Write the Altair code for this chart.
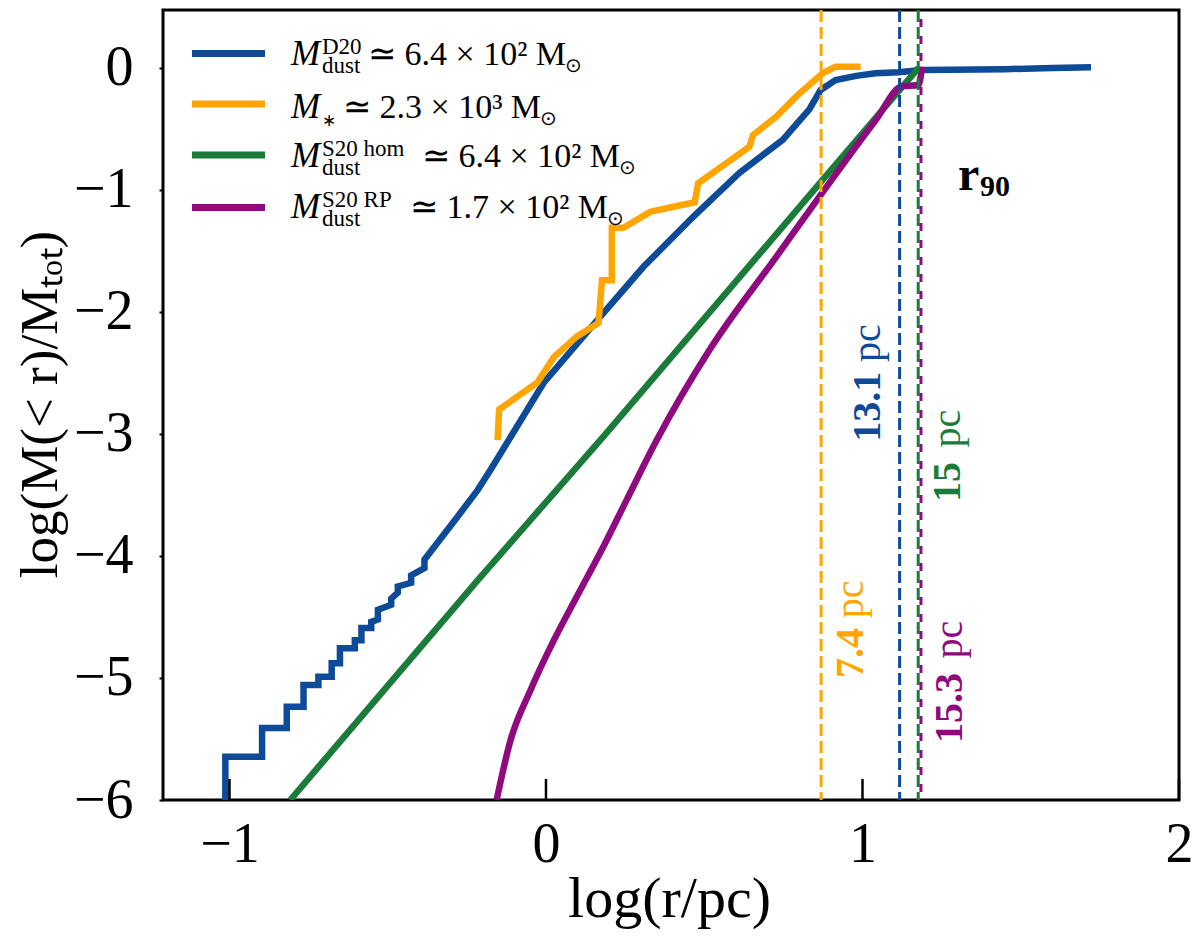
import numpy as np
import pandas as pd
import altair as alt

FONT = "Liberation Serif"

# cumulative mass profiles: log(M(<r)/Mtot) against log(r/pc)
d20_x = [-1.013, -1.013, -0.897, -0.897, -0.819, -0.819, -0.766, -0.766, -0.719, -0.719,
         -0.677, -0.677, -0.651, -0.651, -0.604, -0.604, -0.583, -0.583, -0.552, -0.552,
         -0.531, -0.531, -0.489, -0.489, -0.468, -0.468, -0.426, -0.426, -0.384, -0.384,
         -0.28, -0.216, -0.174, -0.007, 0.171, 0.308, 0.465, 0.611, 0.748, 0.832,
         0.868, 0.915, 0.98, 1.041, 1.114, 1.188, 1.45, 1.6, 1.722]
d20_y = [-6.0, -5.645, -5.645, -5.41, -5.41, -5.235, -5.235, -5.057, -5.057, -4.99,
         -4.99, -4.88, -4.88, -4.757, -4.757, -4.69, -4.69, -4.59, -4.59, -4.54,
         -4.52, -4.44, -4.40, -4.35, -4.30, -4.25, -4.22, -4.16, -4.10, -4.03,
         -3.68, -3.46, -3.29, -2.58, -2.04, -1.63, -1.22, -0.86, -0.59, -0.34,
         -0.18, -0.10, -0.065, -0.044, -0.035, -0.016, -0.01, 0.0, 0.005]

star_x = [-0.153, -0.148, -0.028, 0.025, 0.098, 0.166, 0.177, 0.208, 0.208, 0.245,
          0.329, 0.470, 0.481, 0.538, 0.643, 0.654, 0.727, 0.790, 0.874, 0.915, 0.994]
star_y = [-3.05, -2.80, -2.58, -2.37, -2.20, -2.09, -1.74, -1.74, -1.31, -1.31,
          -1.18, -1.10, -0.945, -0.84, -0.645, -0.55, -0.40, -0.235, -0.044, 0.01, 0.01]

hom_x = [-0.808, -0.216, 0.182, 0.87, 1.177]
hom_y = [-6.0, -4.20, -3.02, -0.93, 0.0]

rp_x = [-0.156, -0.112, -0.049, 0.025, 0.098, 0.182, 0.255, 0.350, 0.517, 0.727,
        0.868, 1.041, 1.125, 1.177, 1.188]
rp_y = [-6.0, -5.51, -5.10, -4.69, -4.33, -3.92, -3.54, -3.05, -2.31, -1.55,
        -1.04, -0.43, -0.15, -0.14, 0.01]

series = ["D20", "star", "hom", "RP"]
colors = ["#0d4a97", "#ffa500", "#1b7b3a", "#8e0a7e"]

# r90 radius of each profile (pc) and its label
r90_pc = [13.1, 7.4, 15.0, 15.3]
r90_txt = ["13.1", "7.4", "15", "15.3"]

# legend texts
leg_sup = ["D20", "", "S20 hom", "S20 RP"]
leg_sub = ["dust", "∗", "dust", "dust"]
leg_main = ["≃ 6.4 × 10² M", "≃ 2.3 × 10³ M", "≃ 6.4 × 10² M", "≃ 1.7 × 10² M"]

x_ticks = [-1, 0, 1, 2]
y_ticks = [-6, -5, -4, -3, -2, -1, 0]

frames = []
for name, xs_, ys_ in zip(series, [d20_x, star_x, hom_x, rp_x], [d20_y, star_y, hom_y, rp_y]):
    frames.append(pd.DataFrame({"x": xs_, "y": ys_, "s": name, "i": range(len(xs_))}))
lines = pd.concat(frames)

xs = alt.Scale(domain=[-1.21, 2.0], nice=False, zero=False)
ys = alt.Scale(domain=[-6.0, 0.475], nice=False, zero=False)
col = alt.Color("s:N", scale=alt.Scale(domain=series, range=colors), legend=None)

curves = alt.Chart(lines[lines.s != "RP"]).mark_line(strokeWidth=6.5, clip=True).encode(
    x=alt.X("x:Q", scale=xs, axis=alt.Axis(
        values=x_ticks, format="d", ticks=False, domain=False, grid=False, labelFlush=False,
        labelFont=FONT, labelFontSize=56, labelColor="black", labelPadding=17,
        title="log(r/pc)", titleFont=FONT, titleFontSize=58, titleFontWeight="normal",
        titleColor="black", titleX=506, titleY=116, titleBaseline="alphabetic",
        titleAlign="center")),
    y=alt.Y("y:Q", scale=ys, axis=alt.Axis(
        values=y_ticks, format="d", tickSize=4, tickWidth=2, tickColor="black", domain=False,
        grid=False, labelFlush=False, labelFont=FONT, labelFontSize=56, labelColor="black",
        labelPadding=26,
        title="log(M(< r)/Mₜₒₜ)", titleFont=FONT, titleFontSize=53, titleFontWeight="normal",
        titleColor="black", titleAngle=270, titleX=-107, titleY=394,
        titleBaseline="alphabetic", titleAlign="center")),
    color=col,
    order="i:Q",
)
# the RP profile is a smooth curve
curve_rp = alt.Chart(lines[lines.s == "RP"]).mark_line(
    strokeWidth=6.5, clip=True, interpolate="monotone").encode(
    x=alt.X("x:Q", scale=xs), y=alt.Y("y:Q", scale=ys), color=col, order="i:Q")

# inward ticks on the bottom axis
tick_df = pd.DataFrame({"t": x_ticks})
ticks = alt.Chart(tick_df).mark_rule(color="black", strokeWidth=2.5).encode(
    x=alt.X("t:Q", scale=xs), y=alt.value(790), y2=alt.value(769))

rdf = pd.DataFrame({"s": series, "lr": np.log10(r90_pc), "num": r90_txt,
                    "bx": [1.054, 1.003, 1.309, 1.315],
                    "ny": [-2.49, -4.59, -3.23, -4.96],
                    "py": [-2.41, -4.51, -3.11, -4.84]})

dashed = alt.Chart(rdf[rdf.s != "RP"]).mark_rule(strokeDash=[12, 5], strokeWidth=3).encode(
    x=alt.X("lr:Q", scale=xs), color=col)
dashed_rp = alt.Chart(rdf[rdf.s == "RP"]).mark_rule(
    strokeDash=[8, 9], strokeDashOffset=8, strokeWidth=3).encode(
    x=alt.X("lr:Q", scale=xs), color=col)

nums = alt.Chart(rdf).mark_text(angle=270, align="right", baseline="alphabetic",
                                font=FONT, fontSize=40, fontWeight="bold").encode(
    x=alt.X("bx:Q", scale=xs), y=alt.Y("ny:Q", scale=ys), text="num:N", color=col)
pcs = alt.Chart(rdf).mark_text(angle=270, align="left", baseline="alphabetic",
                               font=FONT, fontSize=40, text="pc").encode(
    x=alt.X("bx:Q", scale=xs), y=alt.Y("py:Q", scale=ys), color=col)

r90_df = pd.DataFrame({"t": ["r", "90"], "x": [1.302, 1.371], "y": [-1.0, -1.049],
                       "fs": [48, 30]})
r90 = alt.Chart(r90_df).mark_text(align="left", baseline="alphabetic", font=FONT,
                                  fontWeight="bold", color="black").encode(
    x=alt.X("x:Q", scale=xs), y=alt.Y("y:Q", scale=ys), text="t:N",
    size=alt.Size("fs:Q", scale=None, legend=None))

# hand-made legend, pixel layout inside the plot area
leg = pd.DataFrame({"s": series, "sup": leg_sup, "sub": leg_sub, "main": leg_main,
                    "base": [55, 108, 157, 208], "sw": [43.5, 94, 145, 197.5],
                    "mx": [205, 180, 259, 247], "subfs": [23, 17, 23, 23]})
leg["ox"] = leg.mx + 197
ly = alt.Y("base:Q", scale=None)
swatch = alt.Chart(leg).mark_rule(strokeWidth=7).encode(
    x=alt.value(29), x2=alt.value(102), y=alt.Y("sw:Q", scale=None), color=col)
leg_m = alt.Chart(leg).mark_text(text="M", fontStyle="italic", font=FONT, fontSize=35,
                                 align="left", baseline="alphabetic", color="black").encode(
    x=alt.value(128), y=ly)
leg_up = alt.Chart(leg).mark_text(font=FONT, fontSize=23, dy=-11, align="left",
                                  baseline="alphabetic", color="black").encode(
    x=alt.value(159), y=ly, text="sup:N")
leg_dn = alt.Chart(leg).mark_text(font=FONT, dy=8, align="left",
                                  baseline="alphabetic", color="black").encode(
    x=alt.value(159), y=ly, text="sub:N",
    size=alt.Size("subfs:Q", scale=None, legend=None))
leg_tx = alt.Chart(leg).mark_text(font=FONT, fontSize=34, align="left",
                                  baseline="alphabetic", color="black").encode(
    x=alt.X("mx:Q", scale=None), y=ly, text="main:N")
leg_sun = alt.Chart(leg).mark_text(text="⊙", font=FONT, fontSize=20, dy=7, align="left",
                                   baseline="alphabetic", color="black").encode(
    x=alt.X("ox:Q", scale=None), y=ly)

chart = alt.layer(
    curves, curve_rp, dashed, dashed_rp, ticks, nums, pcs, r90,
    swatch, leg_m, leg_up, leg_dn, leg_tx, leg_sun,
).properties(
    width=1016, height=790,
    autosize=alt.AutoSizeParams(type="none"),
    padding={"left": 155, "top": 2, "right": 13, "bottom": 132},
).configure_view(stroke="black", strokeWidth=3)

chart.save("out.html", embed_options={"renderer": "svg", "actions": False})
